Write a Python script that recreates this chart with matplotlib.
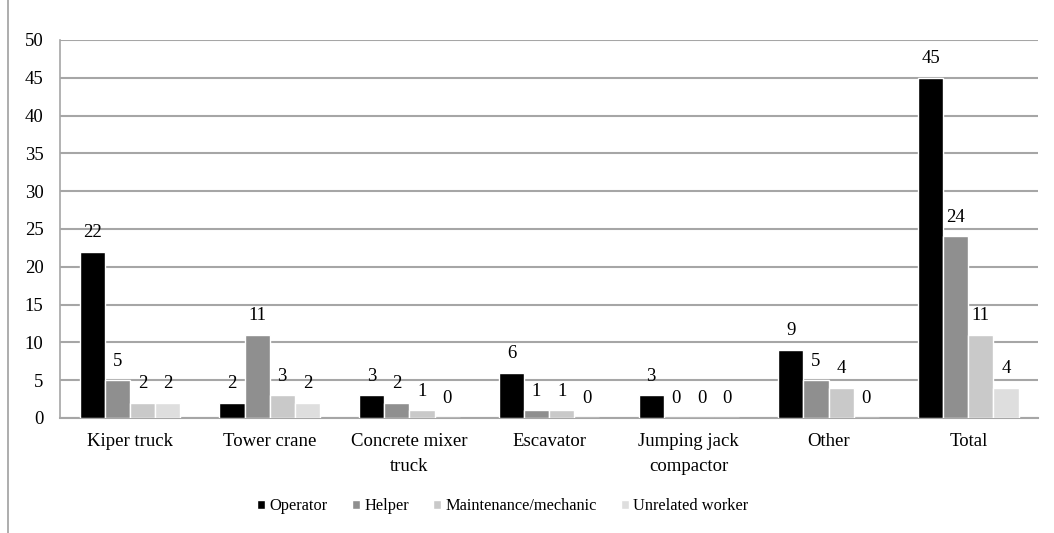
import numpy as np
import matplotlib.pyplot as plt
from matplotlib.patches import Rectangle

plt.rcParams['font.family'] = ['Liberation Serif', 'DejaVu Serif']

categories = ["Kiper truck", "Tower crane", "Concrete mixer\ntruck", "Escavator",
              "Jumping jack\ncompactor", "Other", "Total"]
series_names = ["Operator", "Helper", "Maintenance/mechanic", "Unrelated worker"]
operator = [22, 2, 3, 6, 3, 9, 45]
helper = [5, 11, 2, 1, 0, 5, 24]
maintenance = [2, 3, 1, 1, 0, 4, 11]
unrelated = [2, 2, 0, 0, 0, 0, 4]
series_values = [operator, helper, maintenance, unrelated]
colors = ['#000000', '#8f8f8f', '#c9c9c9', '#dedede']

fig = plt.figure(figsize=(10.54, 5.33), dpi=100)
ax = fig.add_axes([0.057, 0.216, 0.928, 0.709])

x = np.arange(len(categories))
width = 0.18
for i, (name, vals, c) in enumerate(zip(series_names, series_values, colors)):
    offs = (i - 1.5) * width
    bars = ax.bar(x + offs, vals, width, color=c, edgecolor='white',
                  linewidth=1.0, label=name, zorder=3)
    for b, v in zip(bars, vals):
        ax.annotate(str(v), (b.get_x() + b.get_width() / 2, v),
                    xytext=(0, 7.5), textcoords='offset points',
                    ha='center', va='bottom', fontsize=13.5)

ax.set_xlim(-0.5, len(categories) - 0.5)
ax.set_ylim(0, 50)
ax.set_yticks(np.arange(0, 51, 5))
ax.set_xticks(x)
ax.set_xticklabels(categories, fontsize=13.5, va='top', linespacing=1.6)
ax.tick_params(axis='both', length=0, labelsize=13.5)
ax.tick_params(axis='x', pad=11)
ax.tick_params(axis='y', pad=12)
ax.grid(axis='y', color='#a6a6a6', linewidth=1.5, zorder=0)
for s in ['top', 'right']:
    ax.spines[s].set_visible(False)
ax.spines['left'].set_color('#a6a6a6')
ax.spines['bottom'].set_color('#a6a6a6')
ax.spines['left'].set_linewidth(1.2)
ax.spines['bottom'].set_linewidth(1.5)

ax.legend(loc='center', bbox_to_anchor=(0.477, 0.05), bbox_transform=fig.transFigure,
          ncol=4, frameon=False, fontsize=11.75, handlelength=0.5, handleheight=0.5,
          handletextpad=0.25, columnspacing=1.5)

# outer chart frame
fig.add_artist(Rectangle((8 / 1054, -0.1), 1.1, 1.1 + (1 - 11 / 533), transform=fig.transFigure,
                         fill=False, edgecolor='#a0a0a0', linewidth=1.2))

fig.savefig('out.png', dpi=100)
